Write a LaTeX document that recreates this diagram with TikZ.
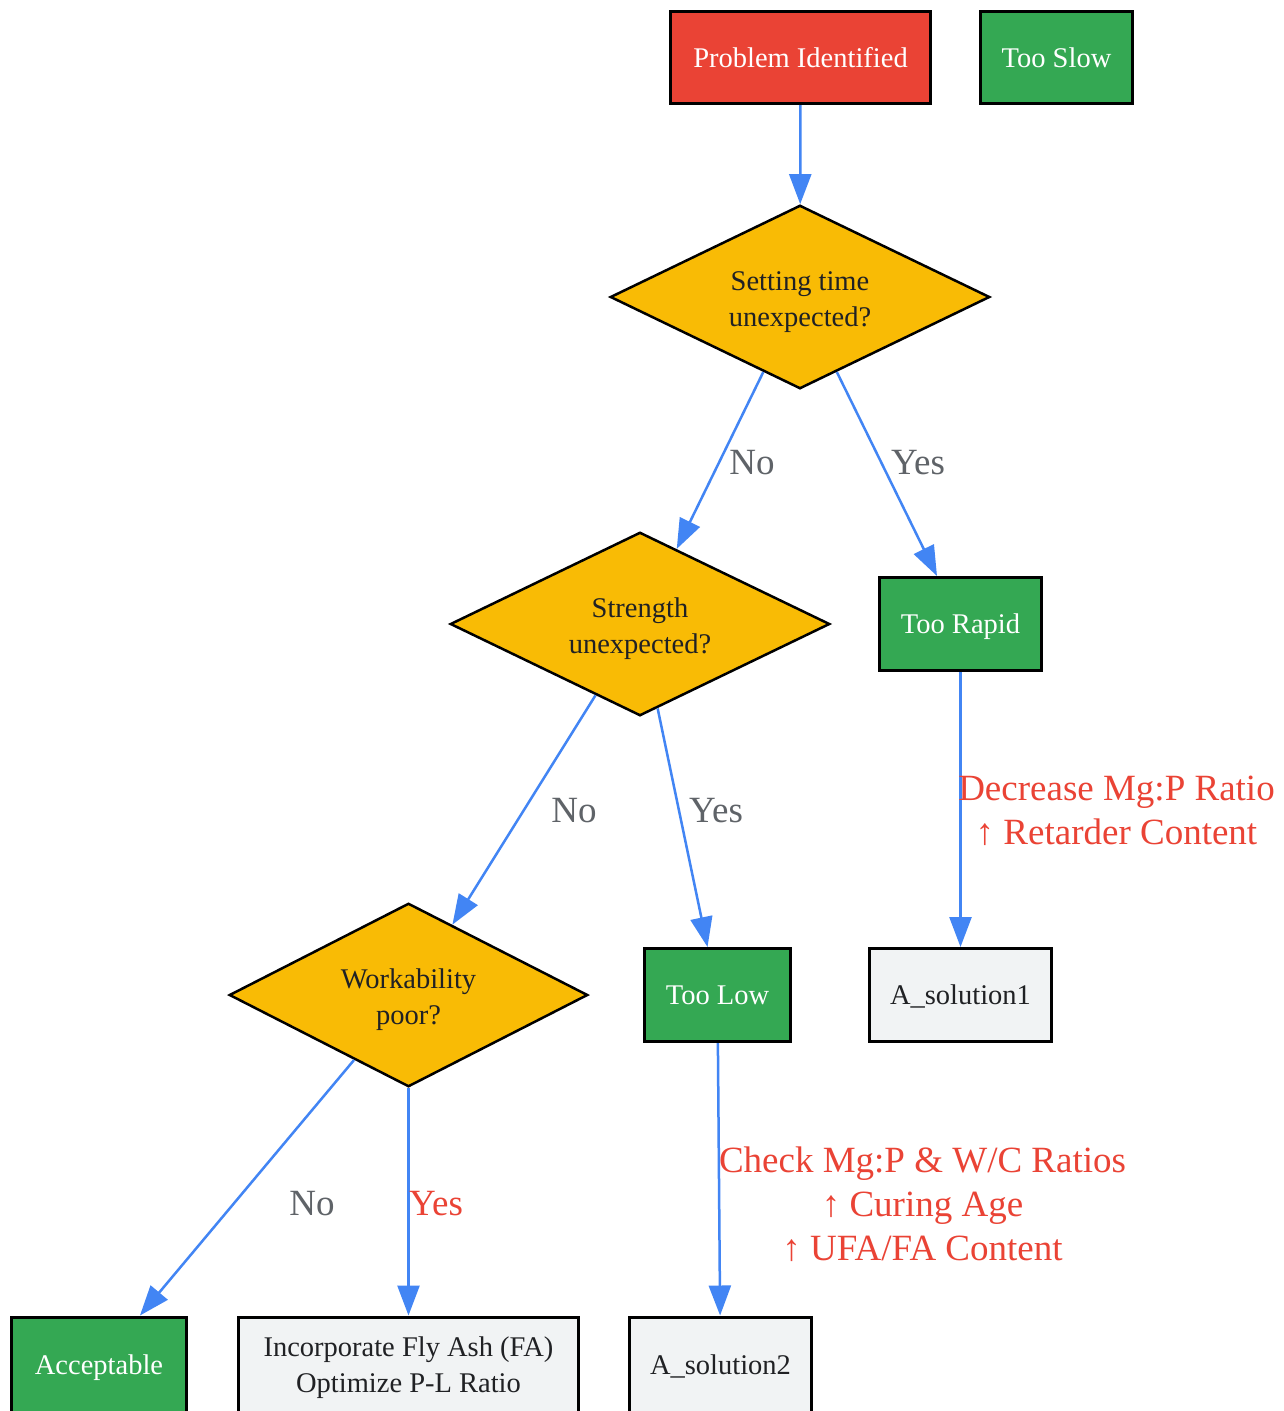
\documentclass[tikz,border=0pt]{standalone}
\usepackage{fontspec}
\setmainfont{Liberation Serif}
\usetikzlibrary{shapes.geometric,arrows.meta}
\definecolor{gred}{HTML}{EA4335}
\definecolor{ggreen}{HTML}{34A853}
\definecolor{gyellow}{HTML}{F9BB05}
\definecolor{glight}{HTML}{F1F3F4}
\definecolor{gblue}{HTML}{4285F4}
\definecolor{ggray}{HTML}{5F6368}
\definecolor{gdark}{HTML}{202124}
\newcommand\dstrut{\rule[-6pt]{0pt}{35.5pt}}
\newcommand\bstrut{\rule[-6pt]{0pt}{31.5pt}}
\begin{document}
\begin{tikzpicture}[x=1pt,y=-1pt,
  box/.style={rectangle, draw=black, line width=3pt, inner sep=0pt,
    minimum height=92pt, font=\fontsize{28.5}{36}\selectfont, align=center},
  redbox/.style={box, fill=gred, text=white},
  greenbox/.style={box, fill=ggreen, text=white},
  solbox/.style={box, fill=glight, text=gdark},
  decision/.style={diamond, aspect=2.05, draw=black, line width=2.5pt, fill=gyellow,
    text=gdark, inner sep=0pt, minimum width=379.5pt, minimum height=183.5pt,
    font=\fontsize{28.5}{36}\selectfont, align=center},
  arr/.style={draw=gblue, line width=2.5pt, -{Triangle[length=30pt,width=22pt]}},
  elabel/.style={font=\fontsize{37}{44}\selectfont, text=ggray, align=center, inner sep=0pt},
  rlabel/.style={elabel, text=gred}
]
\useasboundingbox (0,0) rectangle (1283,1411);
\fill[white] (0,0) rectangle (1283,1411);

% nodes
\node[redbox, minimum width=260pt] (pi) at (800.5,57.5) {\bstrut Problem Identified};
\node[greenbox, minimum width=152pt] (slow) at (1056.5,57.5) {\bstrut Too Slow};
\node[decision] (d1) at (800,297) {\dstrut Setting time\\unexpected?};
\node[decision] (d2) at (640,624) {\dstrut Strength\\unexpected?};
\node[greenbox, minimum width=162pt, minimum height=93pt] (rapid) at (960.5,624) {\bstrut Too Rapid};
\node[decision, minimum width=358.5pt] (d3) at (408.5,995) {\dstrut Workability\\poor?};
\node[greenbox, minimum width=146pt, minimum height=93pt] (low) at (717.5,995) {\bstrut Too Low};
\node[solbox, minimum width=182pt, minimum height=93pt] (sol1) at (960.5,995) {\bstrut A\_solution1};
\node[greenbox, minimum width=175pt, minimum height=95pt] (acc) at (99,1364.5) {\bstrut Acceptable};
\node[solbox, minimum width=340pt, minimum height=95pt] (fa) at (408.5,1364.5) {\bstrut Incorporate Fly Ash (FA)\\Optimize P-L Ratio};
\node[solbox, minimum width=182pt, minimum height=95pt] (sol2) at (720.5,1364.5) {\bstrut A\_solution2};

% connectors
\draw[arr] (pi) -- (d1);
\draw[arr] (d1) -- (d2);
\draw[arr] (d1) -- (rapid);
\draw[arr] (d2) -- (d3);
\draw[arr] (d2) -- (low);
\draw[arr] (rapid) -- (sol1);
\draw[arr] (d3) -- (acc);
\draw[arr] (d3) -- (fa);
\draw[arr] (low) -- (sol2);

% edge labels
\node[elabel] (l1) at (752,463) {No};
\node[elabel] (l2) at (918,463) {Yes};
\node[elabel] (l3) at (574,811) {No};
\node[elabel] (l4) at (716,811) {Yes};
\node[elabel] (l5) at (312,1204) {No};
\node[rlabel] (l6) at (436,1204) {Yes};
\node[rlabel] (l7) at (1116.5,811) {Decrease Mg:P Ratio\\↑ Retarder Content};
\node[rlabel] (l8) at (922.5,1204) {Check Mg:P \& W/C Ratios\\↑ Curing Age\\↑ UFA/FA Content};
\end{tikzpicture}
\end{document}
